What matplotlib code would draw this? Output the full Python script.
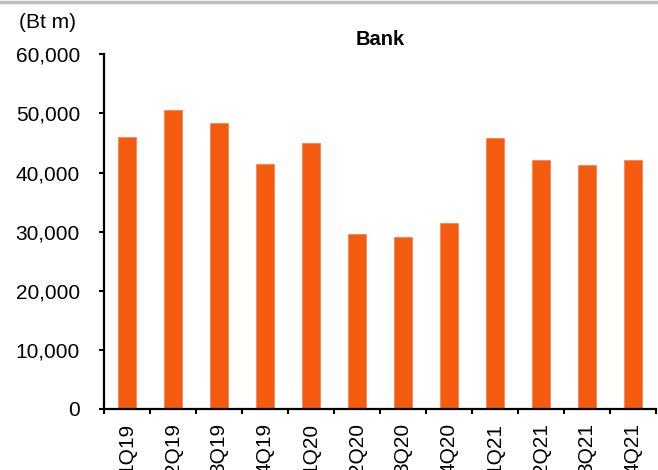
import matplotlib
matplotlib.use("Agg")
import matplotlib.pyplot as plt
from matplotlib.lines import Line2D
from matplotlib.ticker import FuncFormatter, FixedLocator
import numpy as np

plt.rcParams['font.family'] = ['Liberation Sans', 'DejaVu Sans']

quarters = ["1Q19", "2Q19", "3Q19", "4Q19", "1Q20", "2Q20",
            "3Q20", "4Q20", "1Q21", "2Q21", "3Q21", "4Q21"]
bank_values = [45970, 50590, 48390, 41400, 45010, 29560,
               29100, 31470, 45800, 42080, 41240, 42130]
y_ticks = [0, 10000, 20000, 30000, 40000, 50000, 60000]

bar_color = "#F45B0F"

fig = plt.figure(figsize=(6.58, 4.70), dpi=100)
ax = fig.add_axes([104 / 658, 61 / 470, 552 / 658, (409 - 54.3) / 470])

x = np.arange(len(quarters))
ax.bar(x, bank_values, width=0.41, color=bar_color, edgecolor="#F8845A",
       linewidth=0.6, zorder=2)

ax.set_xlim(-0.5, len(quarters) - 0.5)
ax.set_ylim(0, 60000)
ax.set_yticks(y_ticks)
ax.yaxis.set_major_formatter(FuncFormatter(lambda v, p: f"{int(v):,}"))

# category boundary ticks carry the tick marks, centred minor ticks carry labels
ax.xaxis.set_major_locator(FixedLocator(np.arange(-0.5, len(quarters), 1.0)))
ax.xaxis.set_minor_locator(FixedLocator(x))
ax.set_xticklabels([""] * (len(quarters) + 1))
ax.set_xticklabels(quarters, minor=True, rotation=90, ha="center", va="top")
ax.tick_params(axis="x", which="major", length=3.8, width=1.5, direction="out")
ax.tick_params(axis="x", which="minor", length=0, pad=10, labelsize=15)
ax.tick_params(axis="y", length=3.8, width=1.5, direction="out", labelsize=15,
               pad=13.5, colors="black")

for side in ("top", "right"):
    ax.spines[side].set_visible(False)
for side in ("left", "bottom"):
    ax.spines[side].set_linewidth(1.6)
ax.spines["bottom"].set_bounds(-0.5, len(quarters) - 0.5)

ax.set_title("Bank", fontsize=14.5, fontweight="bold", pad=7)
fig.text(19 / 658, 1 - 23 / 470, "(Bt m)", fontsize=15, ha="left", va="center")

# thin grey rule along the top edge
fig.add_artist(Line2D([0, 1], [1 - 2 / 470, 1 - 2 / 470],
                      transform=fig.transFigure, color="#BFBFBF", linewidth=2.5))

fig.savefig("out.png", dpi=100)
